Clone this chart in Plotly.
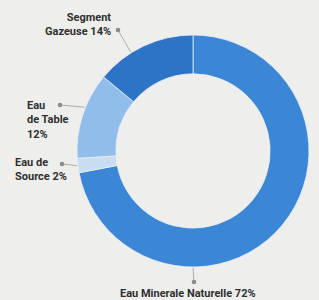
import math
import plotly.graph_objects as go

# ---- data ----
categories = ["Eau Minerale Naturelle", "Eau de Source", "Eau de Table", "Segment Gazeuse"]
shares = [72, 2, 12, 14]
label_lines = [
    ["Eau Minerale Naturelle 72%"],
    ["Eau de", "Source 2%"],
    ["Eau", "de Table", "12%"],
    ["Segment", "Gazeuse 14%"],
]
colors = ["#3b87d5", "#c9ddf0", "#90bdea", "#2e74c6"]

# ---- layout parameters (pixels) ----
W, H = 319, 300
CX, CY, R = 193, 151, 116
HOLE = 0.665
BG = "#eeeeec"
TXT = "#2f2f2f"
FONT = "Roboto, Arial, sans-serif"

fig = go.Figure(go.Pie(
    labels=categories, values=shares, sort=False, direction="clockwise", rotation=0,
    hole=HOLE, textinfo="none", hoverinfo="label+percent",
    marker=dict(colors=colors, line=dict(color="#e9eef4", width=0.8)),
    domain=dict(x=[(CX - R) / W, (CX + R) / W], y=[(H - CY - R) / H, (H - CY + R) / H]),
    showlegend=False,
))

def px(x, y):
    return x / W, 1 - y / H

# angles (clockwise from top) where leader lines touch the ring, derived from slice geometry
total = sum(shares)
cum = 0
mids = []
for v in shares:
    mids.append((cum + v / 2) / total * 360)
    cum += v
leader_angles = [180, mids[1], mids[2] + 4, mids[3] - 7]
# dot positions and text placement per label
dots = [(194, 282), (62, 164), (60, 105), (118, 30)]
text_pos = [  # x, y(top of text block), anchor
    (188, 286, "center"),
    (14, 155, "left"),
    (26, 98, "left"),
    (112, 10, "right"),
]

shapes = []
annotations = []
for i in range(len(categories)):
    a = math.radians(leader_angles[i])
    rx, ry = CX + (R + 1) * math.sin(a), CY - (R + 1) * math.cos(a)
    dx, dy = dots[i]
    x0, y0 = px(rx, ry)
    x1, y1 = px(dx, dy)
    shapes.append(dict(type="line", xref="paper", yref="paper", x0=x0, y0=y0, x1=x1, y1=y1,
                       line=dict(color="#9a9a9a", width=0.8)))
    r = 2.3
    cx0, cy0 = px(dx - r, dy + r)
    cx1, cy1 = px(dx + r, dy - r)
    shapes.append(dict(type="circle", xref="paper", yref="paper", x0=cx0, y0=cy0, x1=cx1, y1=cy1,
                       fillcolor="#8c8c8c", line=dict(width=0)))
    tx, ty, anc = text_pos[i]
    xx, yy = px(tx, ty)
    annotations.append(dict(
        text="<br>".join("<b>" + s + "</b>" for s in label_lines[i]),
        x=xx, y=yy, xref="paper", yref="paper", align=anc,
        xanchor=anc, yanchor="top", showarrow=False, borderpad=0,
        font=dict(family=FONT, size=11, color=TXT),
    ))

fig.update_layout(
    width=W, height=H, margin=dict(l=0, r=0, t=0, b=0),
    paper_bgcolor=BG, plot_bgcolor=BG,
    shapes=shapes, annotations=annotations,
)
fig.write_html(
    "out.html",
    config={"displayModeBar": False},
    post_script="document.body.style.margin='0';document.body.style.background='%s';" % BG,
)
